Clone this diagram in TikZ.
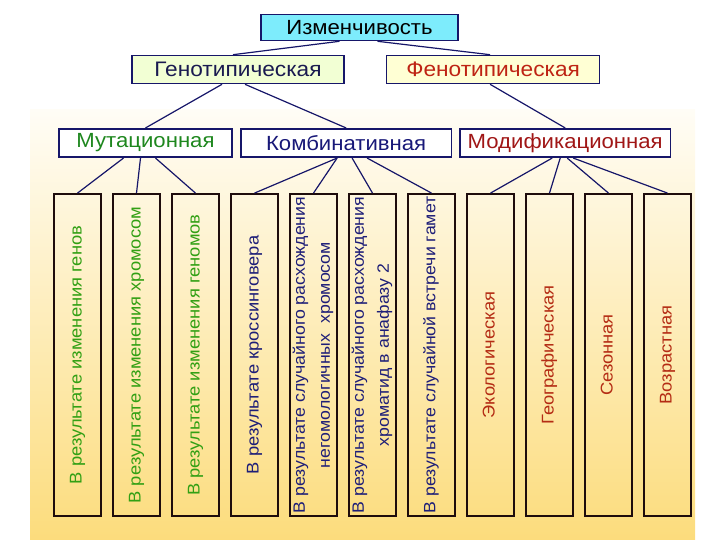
\documentclass[tikz,border=0pt]{standalone}
\usepackage{fontspec}
\setmainfont{Liberation Sans}[FakeStretch=1.08]
\usetikzlibrary{positioning,calc}

\definecolor{edgenavy}{RGB}{22,22,105}
\definecolor{talledge}{RGB}{30,12,12}
\definecolor{izmcyan}{RGB}{125,236,252}
\definecolor{genfill}{RGB}{242,255,212}
\definecolor{fenfill}{RGB}{255,255,212}
\definecolor{gentext}{RGB}{26,26,80}
\definecolor{fentext}{RGB}{190,36,20}
\definecolor{mutgreen}{RGB}{30,135,30}
\definecolor{kombnavy}{RGB}{24,24,120}
\definecolor{modred}{RGB}{160,22,22}
\definecolor{tallgreen}{RGB}{50,160,20}
\definecolor{tallnavy}{RGB}{30,30,120}
\definecolor{tallred}{RGB}{180,44,20}
\definecolor{bgtop}{RGB}{255,253,246}
\definecolor{bgmid}{RGB}{254,236,184}
\definecolor{bgbottom}{RGB}{252,220,124}

\newcommand{\vtext}[1]{\rotatebox{90}{\begin{tabular}{@{}c@{}}#1\end{tabular}}}

\begin{document}
\begin{tikzpicture}[x=1pt, y=-1pt,
    node distance=10pt,
    topbox/.style={rectangle, draw=edgenavy, line width=1.6pt, fill=izmcyan, minimum width=197pt, minimum height=26pt, inner sep=0pt, font=\fontsize{20.5}{24}\selectfont},
    kindbox/.style={rectangle, draw=edgenavy, line width=1.6pt, minimum width=212pt, minimum height=28pt, inner sep=0pt, font=\fontsize{21}{24}\selectfont},
    groupbox/.style={rectangle, draw=edgenavy, line width=1.6pt, fill=white, minimum height=28.5pt, inner sep=0pt, font=\fontsize{20.5}{24}\selectfont},
    tallbox/.style={rectangle, draw=talledge, line width=1.8pt, minimum width=47.2pt, minimum height=322pt, inner sep=0pt, font=\fontsize{17}{20}\selectfont},
    longtext/.style={font=\fontsize{16.4}{19}\selectfont},
    link/.style={draw=edgenavy, line width=1.2pt}
]
    \useasboundingbox (0,0) rectangle (720,540);
    \shade [top color=bgtop, middle color=bgmid, bottom color=bgbottom] (30,110) rectangle (695,540);

    \node [topbox] (izm) at (359.5,27.5) {Изменчивость};
    \node [kindbox, fill=genfill, text=gentext] (gen) at (238,69.5) {Генотипическая};
    \node [kindbox, fill=fenfill, text=fentext, minimum width=213pt, right=41pt of gen] (fen) {Фенотипическая};

    \node [groupbox, minimum width=173.5pt, text=mutgreen] (mut) at (145.5,143) {Мутационная};
    \node [groupbox, minimum width=210.5pt, text=kombnavy, right=7pt of mut] (komb) {Комбинативная};
    \node [groupbox, minimum width=210.5pt, text=modred, right=7pt of komb] (mod) {Модификационная};

    \node [tallbox, text=tallgreen] (t1) at (77.5,355) {\vtext{В результате изменения генов}};
    \node [tallbox, text=tallgreen, right=of t1] (t2) {\vtext{В результате изменения хромосом}};
    \node [tallbox, text=tallgreen, right=of t2] (t3) {\vtext{В результате изменения геномов}};
    \node [tallbox, text=tallnavy, right=of t3] (t4) {\vtext{В результате кроссинговера}};
    \node [tallbox, longtext, text=tallnavy, right=of t4] (t5) {\vtext{В результате случайного расхождения\\[6pt] негомологичных\ \ хромосом}};
    \node [tallbox, longtext, text=tallnavy, right=of t5] (t6) {\vtext{В результате случайного расхождения\\[6pt] хроматид в анафазу 2}};
    \node [tallbox, longtext, text=tallnavy, right=of t6] (t7) {\vtext{В результате случайной встречи гамет}};
    \node [tallbox, text=tallred, right=of t7] (t8) {\vtext{Экологическая}};
    \node [tallbox, text=tallred, right=of t8] (t9) {\vtext{Географическая}};
    \node [tallbox, text=tallred, right=of t9] (t10) {\vtext{Сезонная}};
    \node [tallbox, text=tallred, right=of t10] (t11) {\vtext{Возрастная}};

    \draw [link] ([xshift=-20pt]izm.south) -- ([xshift=-5pt]gen.north);
    \draw [link] ([xshift=18pt]izm.south) -- ([xshift=-3pt]fen.north);
    \draw [link] ([xshift=-16pt]gen.south) -- (mut.north);
    \draw [link] ([xshift=7pt]gen.south) -- (komb.north);
    \draw [link] ([xshift=-3pt]fen.south) -- (mod.north);

    \draw [link] ([xshift=-22pt]mut.south) -- (t1.north);
    \draw [link] ([xshift=-5pt]mut.south) -- (t2.north);
    \draw [link] ([xshift=10pt]mut.south) -- (t3.north);
    \draw [link] ([xshift=-9pt]komb.south) -- (t4.north);
    \draw [link] ([xshift=-9pt]komb.south) -- (t5.north);
    \draw [link] ([xshift=6pt]komb.south) -- (t6.north);
    \draw [link] ([xshift=21pt]komb.south) -- (t7.north);
    \draw [link] ([xshift=-13pt]mod.south) -- (t8.north);
    \draw [link] ([xshift=-5pt]mod.south) -- (t9.north);
    \draw [link] ([xshift=2pt]mod.south) -- (t10.north);
    \draw [link] ([xshift=8pt]mod.south) -- (t11.north);
\end{tikzpicture}
\end{document}
